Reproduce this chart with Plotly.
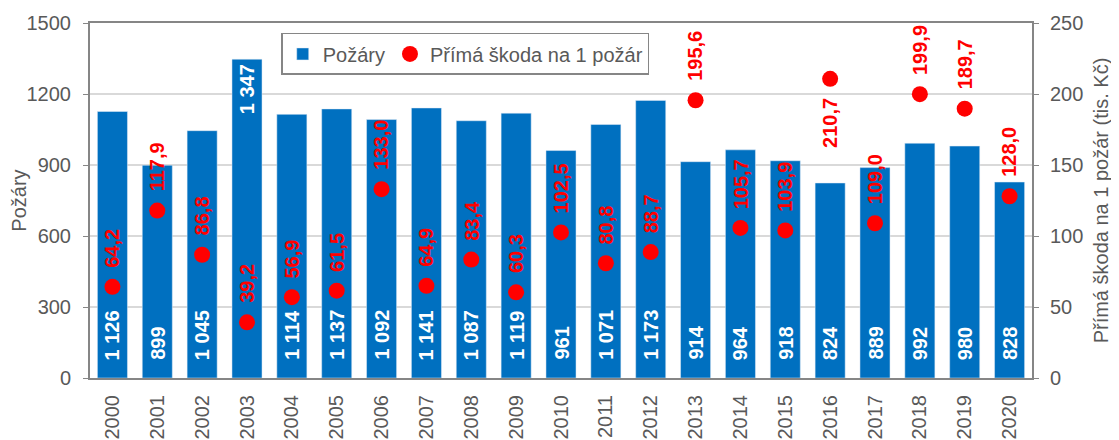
import plotly.graph_objects as go

years = [str(y) for y in range(2000, 2021)]
fires = [1126, 899, 1045, 1347, 1114, 1137, 1092, 1141, 1087, 1119, 961, 1071, 1173,
         914, 964, 918, 824, 889, 992, 980, 828]
damage = [64.2, 117.9, 86.8, 39.2, 56.9, 61.5, 133.0, 64.9, 83.4, 60.3, 102.5, 80.8, 88.7,
          195.6, 105.7, 103.9, 210.7, 109.0, 199.9, 189.7, 128.0]
bar_label_top_years = ["2003"]     # bar value label placed at the top of the bar
point_label_below_years = ["2016"]  # point value label placed below the point

BLUE = "#0070C0"
RED = "#FF0000"
GRAY = "#595959"
AXIS = "#868686"
FONT = "Arial, Liberation Sans, sans-serif"


def fmt_int(v):
    return f"{v:,}".replace(",", " ")


def fmt_dec(v):
    return f"{v:.1f}".replace(".", ",")


fig = go.Figure()
fig.add_trace(go.Bar(
    x=years, y=fires, name="Požáry", marker_color=BLUE, yaxis="y",
))
fig.add_trace(go.Scatter(
    x=years, y=damage, name="Přímá škoda na 1 požár", mode="markers",
    marker=dict(color=RED, size=16), yaxis="y2", cliponaxis=False,
))

# bar value labels
for i, (yr, v) in enumerate(zip(years, fires)):
    if yr in bar_label_top_years:
        fig.add_annotation(x=i, y=v, xref="x", yref="y", text=fmt_int(v), showarrow=False,
                           textangle=-90, yanchor="top", xanchor="center", yshift=-3,
                           font=dict(color="white", size=20, family=FONT, weight="bold"))
    else:
        fig.add_annotation(x=i, y=0, xref="x", yref="y", text=fmt_int(v), showarrow=False,
                           textangle=-90, yanchor="bottom", xanchor="center", yshift=16,
                           font=dict(color="white", size=20, family=FONT, weight="bold"))

# point value labels
for i, (yr, v) in enumerate(zip(years, damage)):
    below = yr in point_label_below_years
    fig.add_annotation(
        x=i, y=v, xref="x", yref="y2", text=fmt_dec(v), showarrow=False,
        textangle=-90, yanchor="top" if below else "bottom", xanchor="center",
        yshift=-17 if below else 17,
        font=dict(color=RED, size=20, family=FONT, weight="bold"),
    )

fig.update_layout(
    width=1111, height=432,
    margin=dict(l=82, r=87, t=15, b=62),
    paper_bgcolor="white", plot_bgcolor="white",
    bargap=0.33,
    font=dict(family=FONT, color=GRAY, size=20),
    showlegend=True,
    legend=dict(
        orientation="h", x=0.203, y=0.972, xanchor="left", yanchor="top",
        bordercolor=AXIS, borderwidth=1.5, bgcolor="white",
        font=dict(size=20, color=GRAY), itemwidth=30,
    ),
    xaxis=dict(
        type="category", categoryorder="array", categoryarray=years,
        range=[-0.5, len(years) - 0.5], tickangle=-90, automargin=False,
        showline=True, linecolor=AXIS, linewidth=2, ticklabelstandoff=7,
        mirror=True, ticks="", tickfont=dict(size=20, color=GRAY),
    ),
    yaxis=dict(
        range=[0, 1500], tickvals=[0, 300, 600, 900, 1200, 1500], automargin=False,
        showgrid=True, gridcolor="#D9D9D9", gridwidth=1.5,
        showline=True, linecolor=AXIS, linewidth=2,
        ticks="outside", ticklen=5, tickcolor=AXIS, ticklabelstandoff=8,
        title=dict(text="Požáry", font=dict(size=20, color=GRAY), standoff=6),
        tickfont=dict(size=20, color=GRAY), zeroline=False,
    ),
    yaxis2=dict(
        range=[0, 250], tickvals=[0, 50, 100, 150, 200, 250], automargin=False,
        overlaying="y", side="right", showgrid=False,
        showline=True, linecolor=AXIS, linewidth=2,
        ticks="outside", ticklen=5, tickcolor=AXIS, ticklabelstandoff=7,
        title=dict(text="Přímá škoda na 1 požár (tis. Kč)", font=dict(size=20, color=GRAY), standoff=12),
        tickfont=dict(size=20, color=GRAY), zeroline=False,
    ),
)

fig.write_html("out.html")
